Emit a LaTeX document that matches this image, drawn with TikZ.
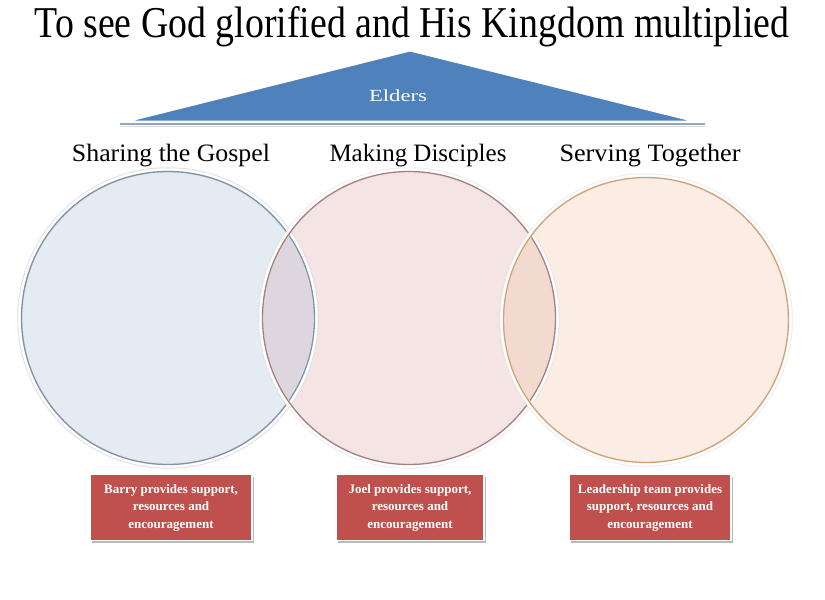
\documentclass[tikz,border=0pt]{standalone}
\usepackage{fontspec}
\setmainfont{Liberation Serif}
\usetikzlibrary{shadows}
\definecolor{elderblue}{HTML}{4F81BD}
\definecolor{baseblue}{HTML}{8FA6C4}
\definecolor{boxred}{HTML}{C0504D}
\definecolor{onefill}{HTML}{E5EBF3}
\definecolor{oneline}{HTML}{7F93AD}
\definecolor{twofill}{HTML}{F4E4E4}
\definecolor{twoline}{HTML}{A98080}
\definecolor{threefill}{HTML}{FBEDE3}
\definecolor{threeline}{HTML}{D4A276}
\definecolor{onetwo}{HTML}{DDD6DE}
\definecolor{twothree}{HTML}{F2DACF}
\begin{document}
\begin{tikzpicture}[x=1pt,y=-1pt,
  heading/.style={anchor=base,inner sep=0pt,font=\fontsize{25}{25}\selectfont},
  support/.style={fill=boxred,draw=white,line width=1.5pt,minimum height=66pt,
    text=white,align=center,inner sep=0pt,
    font=\bfseries\fontsize{13}{17.5}\selectfont,
    drop shadow={shadow xshift=2pt,shadow yshift=-2.5pt,fill=black!45,opacity=0.6}},
  ringwhite/.style={draw=white,line width=3.5pt},
  ringglow/.style={draw=black!12,line width=5.5pt}]
\useasboundingbox (0,0) rectangle (825,600);

% title
\node[anchor=base,inner sep=0pt] (title) at (412,37)
  {\resizebox{755pt}{\height}{\fontsize{44}{44}\selectfont To see God glorified and His Kingdom multiplied}};

% elders triangle and its base line
\draw[baseblue,line width=2.2pt] (120,124) -- (705,124);
\draw[black!15,line width=1.2pt] (120,126.5) -- (705,126.5);
\filldraw[fill=elderblue,draw=white,line width=1pt] (130,121) -- (410,51) -- (692,121) -- cycle;
\node[text=white,inner sep=0pt,anchor=base] (elders) at (398,101)
  {\resizebox{58pt}{\height}{\fontsize{17}{17}\selectfont Elders}};

% headings
\node[heading] (share) at (171,161) {\resizebox{198pt}{\height}{Sharing the Gospel}};
\node[heading] (make) at (418,161) {\resizebox{177pt}{\height}{Making Disciples}};
\node[heading] (serve) at (650,161) {\resizebox{181pt}{\height}{Serving Together}};

% circle fills
\fill[onefill] (168,318) circle (147);
\fill[twofill] (409,318) circle (147);
\fill[threefill] (646,320) circle (143);
\begin{scope}
  \clip (168,318) circle (147);
  \fill[onetwo] (409,318) circle (147);
\end{scope}
\begin{scope}
  \clip (409,318) circle (147);
  \fill[twothree] (646,320) circle (143);
\end{scope}

% circle rims
\draw[ringglow] (168,318) circle (148);
\draw[ringwhite] (168,318) circle (148);
\draw[oneline,line width=1.3pt] (168,318) circle (146.5);
\draw[ringglow,opacity=0.6] (409,318) circle (148);
\draw[ringwhite] (409,318) circle (148);
\draw[twoline,line width=1.3pt] (409,318) circle (146.5);
\draw[ringglow,opacity=0.6] (646,320) circle (144);
\draw[ringwhite] (646,320) circle (144);
\draw[threeline,line width=1.3pt] (646,320) circle (142.5);

% support boxes
\node[support,minimum width=162pt] (barry) at (171,507.5)
  {Barry provides support,\\resources and\\encouragement};
\node[support,minimum width=148pt] (joel) at (410,507.5)
  {Joel provides support,\\resources and\\encouragement};
\node[support,minimum width=162pt] (team) at (650,507.5)
  {Leadership team provides\\support, resources and\\encouragement};
\end{tikzpicture}
\end{document}
